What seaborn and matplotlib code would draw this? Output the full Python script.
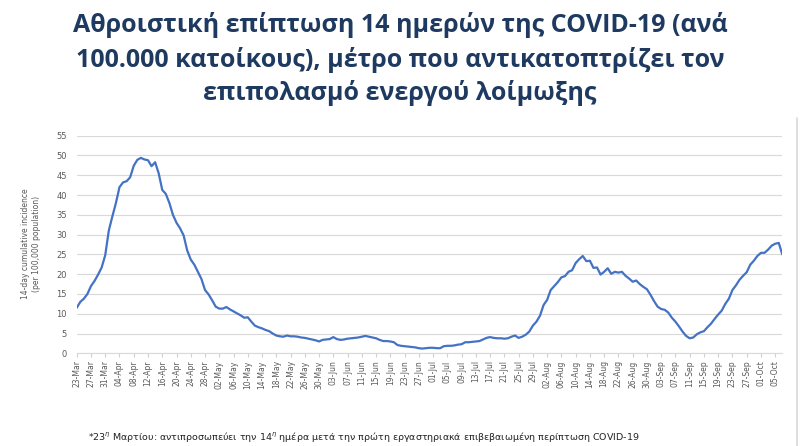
import pandas as pd
import seaborn as sns
import matplotlib.pyplot as plt

# Daily 14-day cumulative incidence per 100,000 (23-Mar .. 07-Oct 2020)
start_date = '2020-03-23'
incidence = [
    11.5, 13.0, 13.8, 15.0, 17.0, 18.3, 19.9, 21.7, 24.8, 31.0,
    34.6, 38.0, 42.0, 43.2, 43.5, 44.5, 47.4, 48.9, 49.4, 49.0,
    48.8, 47.3, 48.3, 45.5, 41.3, 40.3, 38.0, 35.0, 33.0, 31.6,
    29.8, 26.0, 23.7, 22.4, 20.6, 18.8, 16.0, 14.9, 13.4, 11.8,
    11.3, 11.3, 11.7, 11.1, 10.6, 10.1, 9.6, 9.0, 9.1, 8.0,
    7.0, 6.6, 6.3, 5.9, 5.6, 5.0, 4.5, 4.3, 4.2, 4.5,
    4.3, 4.3, 4.2, 4.0, 3.9, 3.7, 3.5, 3.3, 3.0, 3.4,
    3.5, 3.6, 4.1, 3.6, 3.4, 3.5, 3.7, 3.8, 3.9, 4.0,
    4.2, 4.4, 4.2, 4.0, 3.8, 3.4, 3.1, 3.1, 3.0, 2.8,
    2.1, 1.9, 1.8, 1.7, 1.6, 1.5, 1.3, 1.2, 1.3, 1.4,
    1.4, 1.3, 1.3, 1.8, 1.9, 1.9, 2.0, 2.2, 2.3, 2.8,
    2.8, 2.9, 3.0, 3.1, 3.5, 3.9, 4.1, 3.9, 3.8, 3.8,
    3.7, 3.8, 4.2, 4.5, 3.9, 4.2, 4.7, 5.5, 7.0, 8.0,
    9.5, 12.2, 13.5, 16.0, 17.0, 18.0, 19.2, 19.5, 20.6, 21.0,
    22.8, 23.8, 24.6, 23.3, 23.4, 21.6, 21.7, 19.9, 20.6, 21.5,
    20.1, 20.6, 20.4, 20.6, 19.6, 18.9, 18.1, 18.4, 17.5, 16.8,
    16.2, 14.8, 13.2, 11.8, 11.2, 11.0, 10.3, 9.0, 8.0, 6.8,
    5.5, 4.4, 3.8, 4.0, 4.8, 5.3, 5.6, 6.6, 7.5, 8.7,
    9.8, 10.8, 12.5, 13.8, 16.0, 17.2, 18.6, 19.6, 20.5, 22.4,
    23.4, 24.6, 25.4, 25.4, 26.2, 27.2, 27.7, 27.9, 25.0,
]
y_ticks = list(range(0, 56, 5))

title_lines = [
    'Αθροιστική επίπτωση 14 ημερών της COVID-19 (ανά',
    '100.000 κατοίκους), μέτρο που αντικατοπτρίζει τον',
    'επιπολασμό ενεργού λοίμωξης',
]
y_label = '14-day cumulative incidence\n(per 100,000 population)'
footnote = ('*23$^{\\eta}$ Μαρτίου: αντιπροσωπεύει την 14$^{\\eta}$ ημέρα μετά την πρώτη '
            'εργαστηριακά επιβεβαιωμένη περίπτωση COVID-19')

dates = pd.date_range(start_date, periods=len(incidence), freq='D')
df = pd.DataFrame({'date': dates, 'value': incidence})
tick_dates = dates[::4]
tick_labels = [d.strftime('%d-%b') for d in tick_dates]

sns.set_style('white')
plt.rcParams['font.family'] = ['DejaVu Sans']

fig = plt.figure(figsize=(8, 4.46), dpi=100)
ax = fig.add_axes([0.0959, 0.2078, 0.882, 0.4879])

sns.lineplot(data=df, x='date', y='value', ax=ax, color='#4472C4', linewidth=1.6)

ax.set_xlim(dates[0], dates[-1])
ax.set_ylim(0, 55)
ax.set_yticks(y_ticks)
ax.set_xticks(tick_dates)
ax.set_xticklabels(tick_labels, rotation=90)
ax.grid(axis='y', color='#d9d9d9', linewidth=0.8)
ax.set_axisbelow(True)
for side in ['top', 'right', 'left']:
    ax.spines[side].set_visible(False)
ax.spines['bottom'].set_color('#d9d9d9')
ax.tick_params(axis='x', colors='#d0d0d0', labelcolor='#595959', labelsize=5.5,
               length=3, width=0.8, pad=2, direction='out', bottom=True)
ax.tick_params(axis='y', labelcolor='#595959', labelsize=6, length=0, pad=7)
ax.set_xlabel('')
ax.set_ylabel('')

fig.text(31 / 800, 0.453, y_label, rotation=90, ha='center', va='center',
         fontsize=5.5, color='#595959', linespacing=1.3)

title_y = [0.944, 0.866, 0.792]
for line, ty in zip(title_lines, title_y):
    fig.text(0.5, ty, line, ha='center', va='center', fontsize=18,
             fontweight='bold', color='#1F3A60', family=['Open Sans', 'DejaVu Sans'])

fig.text(88 / 800, 1 - 437 / 446, footnote, ha='left', va='center',
         fontsize=6.8, color='#222222')

# thin frame line on the right edge
fig.add_artist(plt.Line2D([797 / 800, 797 / 800], [0, 1 - 118 / 446],
                          color='#d9d9d9', linewidth=1.2, transform=fig.transFigure))

fig.savefig('out.png', dpi=100, facecolor='white')
plt.close(fig)
